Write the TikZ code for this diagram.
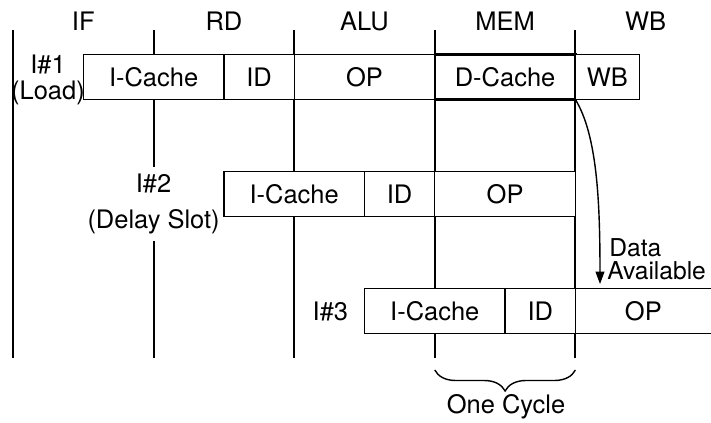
\documentclass[tikz,border=0pt]{standalone}
\usepackage{fontspec}
\setmainfont{TeX Gyre Heros}
\usetikzlibrary{positioning,decorations.pathreplacing,arrows.meta}

\begin{document}
\begin{tikzpicture}[
    x=0.02cm, y=-0.02cm,
    % Define styles
    cell/.style={
        rectangle,
        draw,
        fill=white,
        line width=0.75pt,
        outer sep=0pt,
        inner sep=0pt,
        minimum height=45*0.02cm,
        font=\fontsize{14.5}{16}\selectfont
    },
    fullcell/.style={
        cell,
        minimum width=140.6*0.02cm
    },
    halfcell/.style={
        cell,
        minimum width=70.3*0.02cm
    },
    stage/.style={
        font=\fontsize{14.5}{16}\selectfont
    },
    rowtag/.style={
        align=center,
        inner sep=0pt,
        font=\fontsize{14.5}{15}\selectfont
    },
    gridline/.style={
        line width=1.15pt
    },
    arrow/.style={
        -{Triangle[length=7pt, width=5pt]},
        line width=0.8pt
    },
    cyclebrace/.style={
        decorate,
        decoration={brace, amplitude=0.42cm},
        line width=0.8pt
    }
]

% Variables
\def\col{140.6}
\def\half{70.3}
\def\xzero{13}
\def\gridtop{30}
\def\gridbot{358}
\def\rowone{77}
\def\rowtwo{194}
\def\rowthree{311}
\pgfmathsetmacro{\startone}{\xzero+\half}
\pgfmathsetmacro{\starttwo}{\xzero+\col+\half}
\pgfmathsetmacro{\startthree}{\xzero+2*\col+\half}

\useasboundingbox (0,0) rectangle (711,423);

% Stage columns
\foreach \k in {0,...,4}
    \draw[gridline] ({\xzero+\k*\col},\gridtop) -- ({\xzero+\k*\col},\gridbot);

% Stage names
\foreach \name [count=\k from 0] in {IF,RD,ALU,MEM,WB}
    \node[stage] (h\name) at ({\xzero+\half+\k*\col},21) {\name};

% Instruction 1 (load)
\node[fullcell, anchor=west] (icone) at (\startone,\rowone) {I-Cache};
\node[halfcell, right=0pt of icone] (idone) {ID};
\node[fullcell, right=0pt of idone] (opone) {OP};
\node[fullcell, right=0pt of opone, line width=1.4pt] (dcone) {D-Cache};
\node[cell, minimum width=64*0.02cm, right=0pt of dcone] (wbone) {WB};
\node[rowtag] (ione) at (48,80) {I\#1\\(Load)};

% Instruction 2 (delay slot)
\node[fullcell, anchor=west] (ictwo) at (\starttwo,\rowtwo) {I-Cache};
\node[halfcell, right=0pt of ictwo] (idtwo) {ID};
\node[fullcell, right=0pt of idtwo] (optwo) {OP};
\node[rowtag, fill=white, inner xsep=2pt, inner ysep=4pt,
      font=\fontsize{14.5}{20.5}\selectfont] (itwo) at ({\xzero+\col},204) {I\#2\\(Delay Slot)};

% Instruction 3
\node[fullcell, anchor=west] (icthree) at (\startthree,\rowthree) {I-Cache};
\node[halfcell, right=0pt of icthree] (idthree) {ID};
\node[cell, draw=none, fill=none, minimum width=136*0.02cm, right=0pt of idthree] (opthree) {OP};
\draw[line width=0.75pt] (opthree.north west) -- (opthree.north east)
                         (opthree.south west) -- (opthree.south east);
\node[rowtag, left=0.32cm of icthree] (ithree) {I\#3};

% Load data forwarded
\coordinate (avail) at (600,284);
\draw[arrow] (dcone.south east) .. controls (597,135) and (600,200) .. (avail);
\node[rowtag, anchor=base west, font=\fontsize{14}{15}\selectfont] (data) at (609,256) {Data};
\node[rowtag, anchor=base west, font=\fontsize{14}{15}\selectfont] (available) at (607,279) {Available};

% One cycle
\coordinate (cycler) at ({\xzero+4*\col},370);
\coordinate (cyclel) at ({\xzero+3*\col},370);
\draw[cyclebrace] (cycler) -- (cyclel);
\node[stage] (cycle) at (506,407) {One Cycle};

\end{tikzpicture}
\end{document}
